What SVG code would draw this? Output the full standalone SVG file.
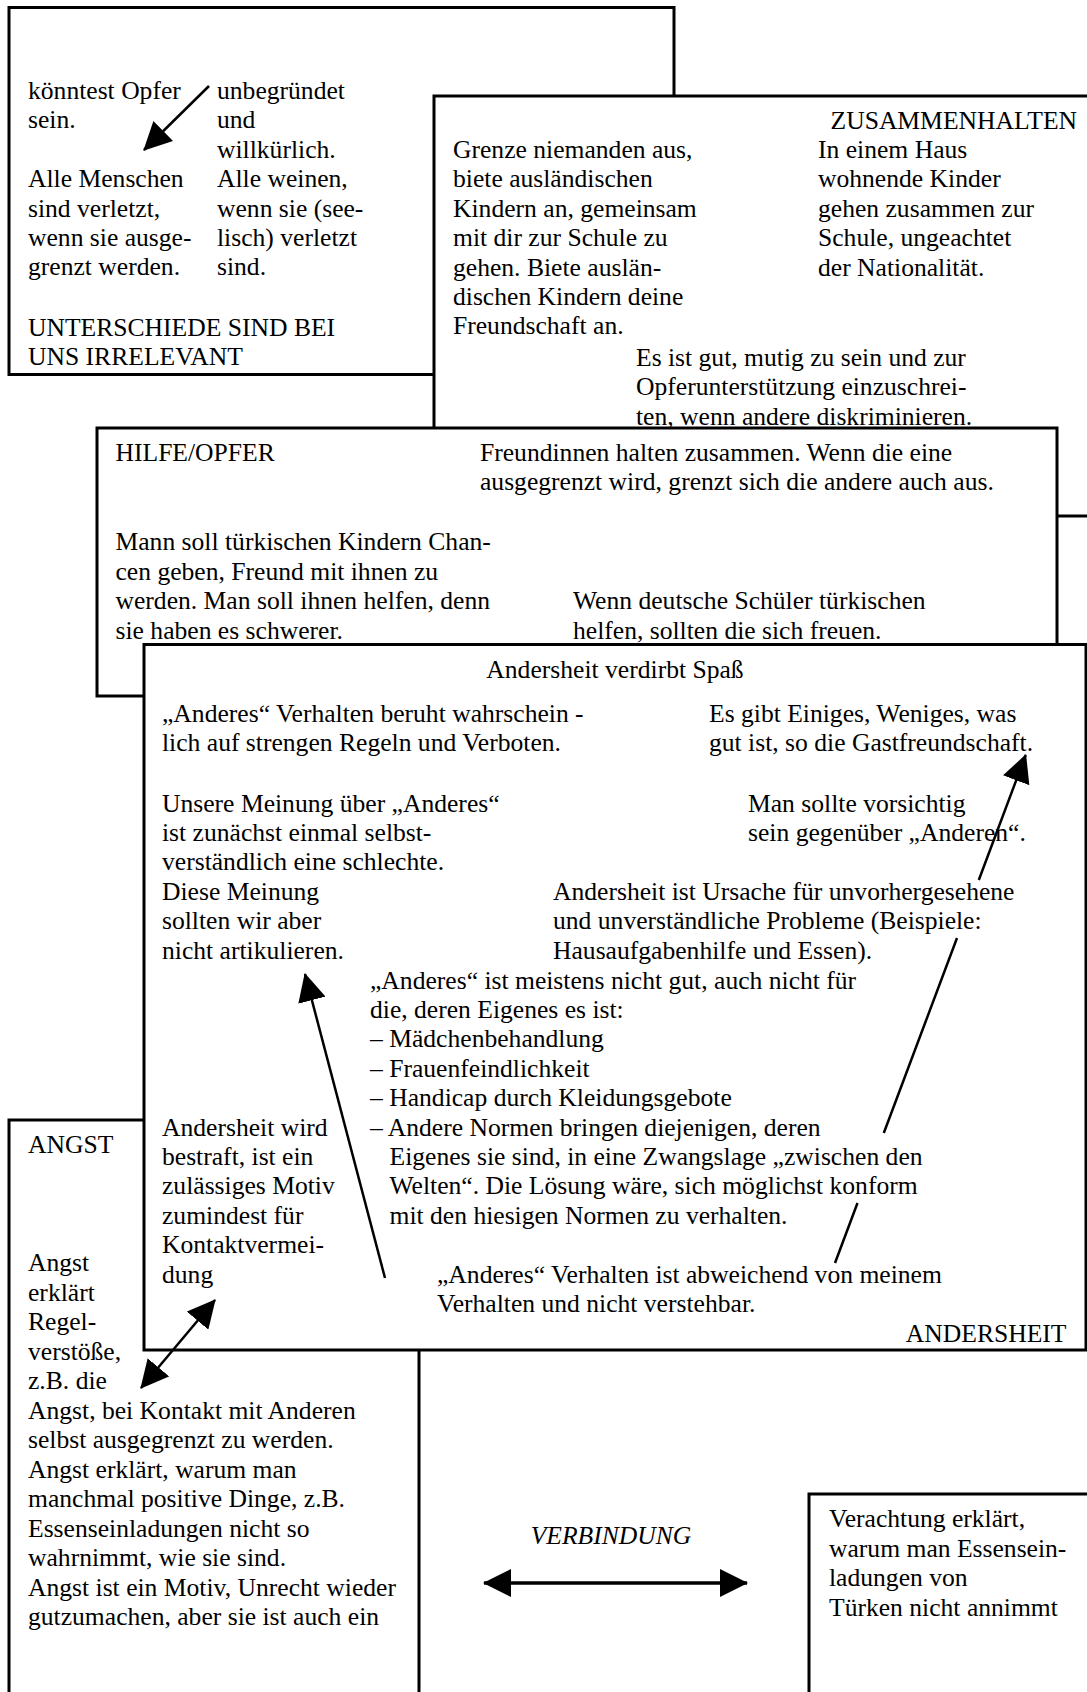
<svg xmlns="http://www.w3.org/2000/svg" width="1087" height="1692" viewBox="0 0 1087 1692">
<style>
.box{fill:#fff;stroke:#000;stroke-width:3}
.t{font-family:"Liberation Serif","Times New Roman",serif;font-size:25.6px;fill:#000}
.it{font-style:italic}
.con{fill:none;stroke:#000;stroke-width:2.5}
.thick{stroke-width:3.5}
</style>
<defs>
<marker id="ah" viewBox="0 0 28 28" refX="27" refY="14" markerWidth="28" markerHeight="28" markerUnits="userSpaceOnUse" orient="auto-start-reverse">
<path d="M0,0 L28,14 L0,28 z" fill="#000"/>
</marker>
</defs>
<rect width="1087" height="1692" fill="#fff"/>

<g id="n-unterschiede">
<rect class="box" x="9" y="7.5" width="665" height="367"/>
<text class="t" x="28" y="99">
<tspan x="28" dy="0">könntest Opfer</tspan>
<tspan x="28" dy="29.4">sein.</tspan>
<tspan x="28" dy="58.8">Alle Menschen</tspan>
<tspan x="28" dy="29.4">sind verletzt,</tspan>
<tspan x="28" dy="29.4">wenn sie ausge-</tspan>
<tspan x="28" dy="29.4">grenzt werden.</tspan>
</text>
<text class="t" x="217" y="99">
<tspan x="217" dy="0">unbegründet</tspan>
<tspan x="217" dy="29.4">und</tspan>
<tspan x="217" dy="29.4">willkürlich.</tspan>
<tspan x="217" dy="29.4">Alle weinen,</tspan>
<tspan x="217" dy="29.4">wenn sie (see-</tspan>
<tspan x="217" dy="29.4">lisch) verletzt</tspan>
<tspan x="217" dy="29.4">sind.</tspan>
</text>
<text class="t" x="28" y="335.5">
<tspan x="28" dy="0">UNTERSCHIEDE SIND BEI</tspan>
<tspan x="28" dy="29.4">UNS IRRELEVANT</tspan>
</text>
</g>

<g id="n-zusammenhalten">
<rect class="box" x="434" y="96" width="700" height="420"/>
<text class="t" x="1077" y="128.5" text-anchor="end">ZUSAMMENHALTEN</text>
<text class="t" x="453" y="158">
<tspan x="453" dy="0">Grenze niemanden aus,</tspan>
<tspan x="453" dy="29.4">biete ausländischen</tspan>
<tspan x="453" dy="29.4">Kindern an, gemeinsam</tspan>
<tspan x="453" dy="29.4">mit dir zur Schule zu</tspan>
<tspan x="453" dy="29.4">gehen. Biete auslän-</tspan>
<tspan x="453" dy="29.4">dischen Kindern deine</tspan>
<tspan x="453" dy="29.4">Freundschaft an.</tspan>
</text>
<text class="t" x="818" y="158">
<tspan x="818" dy="0">In einem Haus</tspan>
<tspan x="818" dy="29.4">wohnende Kinder</tspan>
<tspan x="818" dy="29.4">gehen zusammen zur</tspan>
<tspan x="818" dy="29.4">Schule, ungeachtet</tspan>
<tspan x="818" dy="29.4">der Nationalität.</tspan>
</text>
<text class="t" x="636" y="366">
<tspan x="636" dy="0">Es ist gut, mutig zu sein und zur</tspan>
<tspan x="636" dy="29.4">Opferunterstützung einzuschrei-</tspan>
<tspan x="636" dy="29.4">ten, wenn andere diskriminieren.</tspan>
</text>
</g>

<g id="n-hilfe">
<rect class="box" x="97" y="428" width="960" height="268"/>
<text class="t" x="115.5" y="461">HILFE/OPFER</text>
<text class="t" x="480" y="461">
<tspan x="480" dy="0">Freundinnen halten zusammen. Wenn die eine</tspan>
<tspan x="480" dy="29.4">ausgegrenzt wird, grenzt sich die andere auch aus.</tspan>
</text>
<text class="t" x="115.5" y="550.4">
<tspan x="115.5" dy="0">Mann soll türkischen Kindern Chan-</tspan>
<tspan x="115.5" dy="29.4">cen geben, Freund mit ihnen zu</tspan>
<tspan x="115.5" dy="29.4">werden. Man soll ihnen helfen, denn</tspan>
<tspan x="115.5" dy="29.4">sie haben es schwerer.</tspan>
</text>
<text class="t" x="573" y="609.2">
<tspan x="573" dy="0">Wenn deutsche Schüler türkischen</tspan>
<tspan x="573" dy="29.4">helfen, sollten die sich freuen.</tspan>
</text>
</g>

<g id="n-angst">
<rect class="box" x="9" y="1120" width="410" height="620"/>
<text class="t" x="28" y="1153">ANGST</text>
<text class="t" x="28" y="1271.4">
<tspan x="28" dy="0">Angst</tspan>
<tspan x="28" dy="29.5">erklärt</tspan>
<tspan x="28" dy="29.5">Regel-</tspan>
<tspan x="28" dy="29.5">verstöße,</tspan>
<tspan x="28" dy="29.5">z.B. die</tspan>
<tspan x="28" dy="29.5">Angst, bei Kontakt mit Anderen</tspan>
<tspan x="28" dy="29.5">selbst ausgegrenzt zu werden.</tspan>
<tspan x="28" dy="29.5">Angst erklärt, warum man</tspan>
<tspan x="28" dy="29.5">manchmal positive Dinge, z.B.</tspan>
<tspan x="28" dy="29.5">Essenseinladungen nicht so</tspan>
<tspan x="28" dy="29.5">wahrnimmt, wie sie sind.</tspan>
<tspan x="28" dy="29.5">Angst ist ein Motiv, Unrecht wieder</tspan>
<tspan x="28" dy="29.5">gutzumachen, aber sie ist auch ein</tspan>
</text>
</g>

<g id="n-andersheit">
<rect class="box" x="144" y="644.5" width="942" height="705.5"/>
<text class="t" x="615" y="678" text-anchor="middle">Andersheit verdirbt Spaß</text>
<text class="t" x="162" y="722">
<tspan x="162" dy="0">„Anderes“ Verhalten beruht wahrschein -</tspan>
<tspan x="162" dy="29.4">lich auf strengen Regeln und Verboten.</tspan>
</text>
<text class="t" x="709" y="722">
<tspan x="709" dy="0">Es gibt Einiges, Weniges, was</tspan>
<tspan x="709" dy="29.4">gut ist, so die Gastfreundschaft.</tspan>
</text>
<text class="t" x="162" y="811.6">
<tspan x="162" dy="0">Unsere Meinung über „Anderes“</tspan>
<tspan x="162" dy="29.4">ist zunächst einmal selbst-</tspan>
<tspan x="162" dy="29.4">verständlich eine schlechte.</tspan>
<tspan x="162" dy="29.4">Diese Meinung</tspan>
<tspan x="162" dy="29.4">sollten wir aber</tspan>
<tspan x="162" dy="29.4">nicht artikulieren.</tspan>
</text>
<text class="t" x="748" y="811.6">
<tspan x="748" dy="0">Man sollte vorsichtig</tspan>
<tspan x="748" dy="29.4">sein gegenüber „Anderen“.</tspan>
</text>
<text class="t" x="553" y="899.8">
<tspan x="553" dy="0">Andersheit ist Ursache für unvorhergesehene</tspan>
<tspan x="553" dy="29.4">und unverständliche Probleme (Beispiele:</tspan>
<tspan x="553" dy="29.4">Hausaufgabenhilfe und Essen).</tspan>
</text>
<text class="t" x="370" y="988.6">
<tspan x="370" dy="0">„Anderes“ ist meistens nicht gut, auch nicht für</tspan>
<tspan x="370" dy="29.4">die, deren Eigenes es ist:</tspan>
<tspan x="370" dy="29.4">– Mädchenbehandlung</tspan>
<tspan x="370" dy="29.4">– Frauenfeindlichkeit</tspan>
<tspan x="370" dy="29.4">– Handicap durch Kleidungsgebote</tspan>
<tspan x="370" dy="29.4">– Andere Normen bringen diejenigen, deren</tspan>
<tspan x="389.5" dy="29.4">Eigenes sie sind, in eine Zwangslage „zwischen den</tspan>
<tspan x="389.5" dy="29.4">Welten“. Die Lösung wäre, sich möglichst konform</tspan>
<tspan x="389.5" dy="29.4">mit den hiesigen Normen zu verhalten.</tspan>
</text>
<text class="t" x="162" y="1135.6">
<tspan x="162" dy="0">Andersheit wird</tspan>
<tspan x="162" dy="29.4">bestraft, ist ein</tspan>
<tspan x="162" dy="29.4">zulässiges Motiv</tspan>
<tspan x="162" dy="29.4">zumindest für</tspan>
<tspan x="162" dy="29.4">Kontaktvermei-</tspan>
<tspan x="162" dy="29.4">dung</tspan>
</text>
<text class="t" x="437" y="1283">
<tspan x="437" dy="0">„Anderes“ Verhalten ist abweichend von meinem</tspan>
<tspan x="437" dy="29.4">Verhalten und nicht verstehbar.</tspan>
</text>
<text class="t" x="1066.5" y="1342" text-anchor="end">ANDERSHEIT</text>
</g>

<g id="n-verachtung">
<rect class="box" x="809" y="1494" width="300" height="250"/>
<text class="t" x="829" y="1527.3">
<tspan x="829" dy="0">Verachtung erklärt,</tspan>
<tspan x="829" dy="29.4">warum man Essensein-</tspan>
<tspan x="829" dy="29.4">ladungen von</tspan>
<tspan x="829" dy="29.4">Türken nicht annimmt</tspan>
</text>
</g>

<g id="connectors">
<path class="con" d="M209,86 L144,150" marker-end="url(#ah)"/>
<path class="con" d="M385,1278 L305,974" marker-end="url(#ah)"/>
<path class="con" d="M835,1263 L857.5,1203 M883.8,1133 L957,938 M978.8,880 L1025.7,755" marker-end="url(#ah)"/>
<path class="con" d="M141,1388 L215,1300" marker-start="url(#ah)" marker-end="url(#ah)"/>
<path class="con thick" d="M484,1583 L747,1583" marker-start="url(#ah)" marker-end="url(#ah)"/>
<text class="t it" x="611" y="1543.5" text-anchor="middle">VERBINDUNG</text>
</g>
</svg>
